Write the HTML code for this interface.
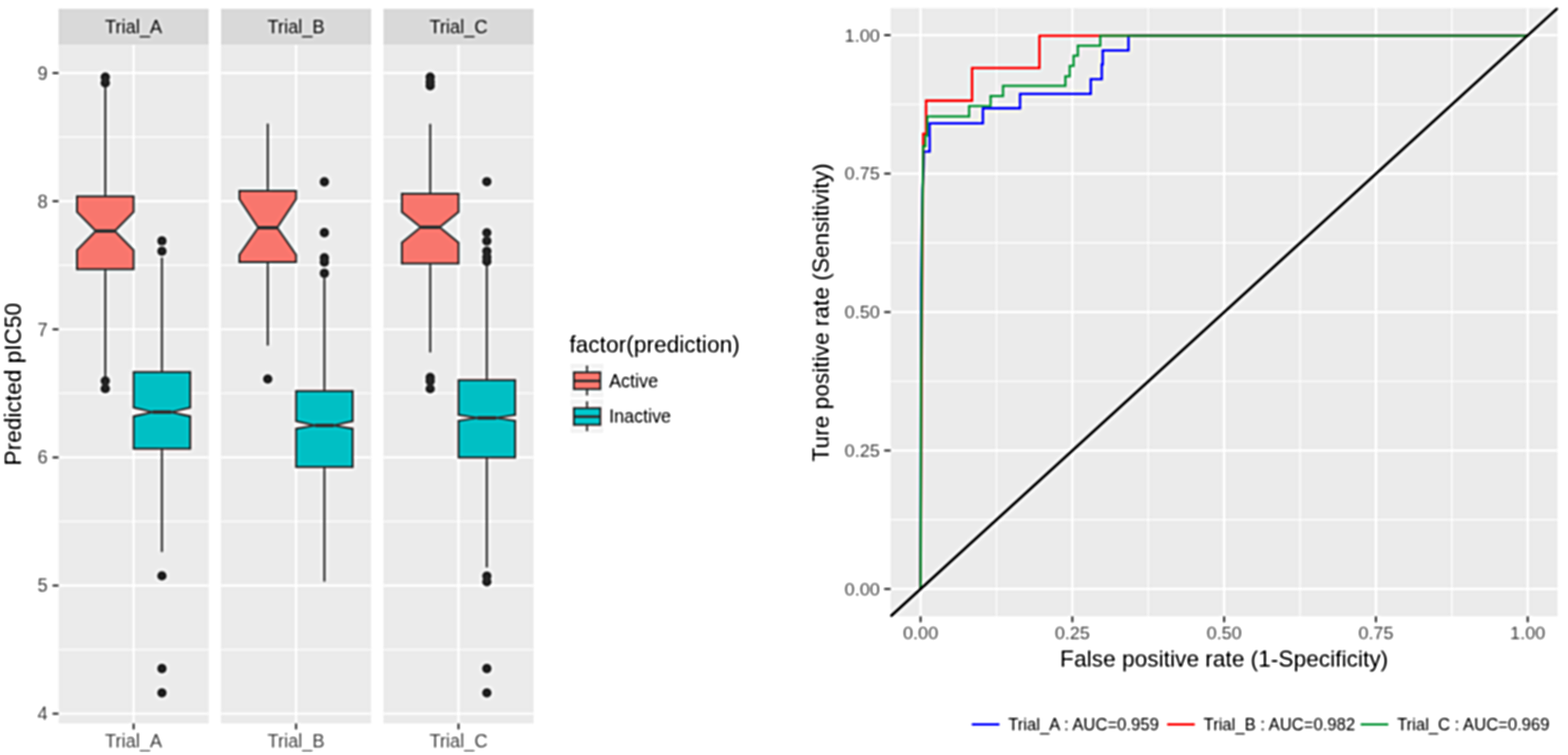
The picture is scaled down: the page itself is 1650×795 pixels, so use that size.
<!DOCTYPE html>
<html><head><meta charset="utf-8"><title>Boxplot and ROC</title>
<style>html,body{margin:0;padding:0;background:#fff;width:1650px;height:795px;overflow:hidden}svg{display:block}</style>
</head><body>
<svg width="1650" height="795" viewBox="0 0 1650 795" font-family='"Liberation Sans", Arial, Helvetica, sans-serif'>
<rect x="0" y="0" width="1650" height="795" fill="#FFFFFF"/>
<defs><filter id="soft" filterUnits="userSpaceOnUse" x="0" y="0" width="1650" height="795" color-interpolation-filters="sRGB"><feGaussianBlur in="SourceGraphic" stdDeviation="0.85" result="b1"/><feGaussianBlur in="SourceGraphic" stdDeviation="2.0" result="b2"/><feComposite in="b1" in2="b2" operator="arithmetic" k1="0" k2="1.7" k3="-0.7" k4="0"/></filter></defs>
<g filter="url(#soft)">
<rect x="0" y="0" width="1650" height="795" fill="#FFFFFF"/>
<rect x="61.6" y="9.3" width="158" height="38" fill="#D9D9D9"/>
<text transform="translate(140.6,35.2) scale(1,1.03)" font-size="19.2" fill="#1A1A1A" text-anchor="middle">Trial_A</text>
<rect x="61.6" y="47.3" width="158" height="714.5" fill="#EBEBEB"/>
<line x1="61.6" x2="219.6" y1="684.04" y2="684.04" stroke="#FFFFFF" stroke-width="1.2"/>
<line x1="61.6" x2="219.6" y1="549.12" y2="549.12" stroke="#FFFFFF" stroke-width="1.2"/>
<line x1="61.6" x2="219.6" y1="414.2" y2="414.2" stroke="#FFFFFF" stroke-width="1.2"/>
<line x1="61.6" x2="219.6" y1="279.28" y2="279.28" stroke="#FFFFFF" stroke-width="1.2"/>
<line x1="61.6" x2="219.6" y1="144.36" y2="144.36" stroke="#FFFFFF" stroke-width="1.2"/>
<line x1="61.6" x2="219.6" y1="751.5" y2="751.5" stroke="#FFFFFF" stroke-width="2.2"/>
<line x1="61.6" x2="219.6" y1="616.58" y2="616.58" stroke="#FFFFFF" stroke-width="2.2"/>
<line x1="61.6" x2="219.6" y1="481.66" y2="481.66" stroke="#FFFFFF" stroke-width="2.2"/>
<line x1="61.6" x2="219.6" y1="346.74" y2="346.74" stroke="#FFFFFF" stroke-width="2.2"/>
<line x1="61.6" x2="219.6" y1="211.82" y2="211.82" stroke="#FFFFFF" stroke-width="2.2"/>
<line x1="61.6" x2="219.6" y1="76.9" y2="76.9" stroke="#FFFFFF" stroke-width="2.2"/>
<line x1="140.6" x2="140.6" y1="47.3" y2="761.8" stroke="#FFFFFF" stroke-width="2.2"/>
<line x1="140.6" x2="140.6" y1="761.8" y2="768.1" stroke="#333333" stroke-width="2"/>
<text transform="translate(140.6,787) scale(1,1.03)" font-size="19.2" fill="#4D4D4D" text-anchor="middle">Trial_A</text>
<rect x="232.55" y="9.3" width="158" height="38" fill="#D9D9D9"/>
<text transform="translate(311.55,35.2) scale(1,1.03)" font-size="19.2" fill="#1A1A1A" text-anchor="middle">Trial_B</text>
<rect x="232.55" y="47.3" width="158" height="714.5" fill="#EBEBEB"/>
<line x1="232.55" x2="390.55" y1="684.04" y2="684.04" stroke="#FFFFFF" stroke-width="1.2"/>
<line x1="232.55" x2="390.55" y1="549.12" y2="549.12" stroke="#FFFFFF" stroke-width="1.2"/>
<line x1="232.55" x2="390.55" y1="414.2" y2="414.2" stroke="#FFFFFF" stroke-width="1.2"/>
<line x1="232.55" x2="390.55" y1="279.28" y2="279.28" stroke="#FFFFFF" stroke-width="1.2"/>
<line x1="232.55" x2="390.55" y1="144.36" y2="144.36" stroke="#FFFFFF" stroke-width="1.2"/>
<line x1="232.55" x2="390.55" y1="751.5" y2="751.5" stroke="#FFFFFF" stroke-width="2.2"/>
<line x1="232.55" x2="390.55" y1="616.58" y2="616.58" stroke="#FFFFFF" stroke-width="2.2"/>
<line x1="232.55" x2="390.55" y1="481.66" y2="481.66" stroke="#FFFFFF" stroke-width="2.2"/>
<line x1="232.55" x2="390.55" y1="346.74" y2="346.74" stroke="#FFFFFF" stroke-width="2.2"/>
<line x1="232.55" x2="390.55" y1="211.82" y2="211.82" stroke="#FFFFFF" stroke-width="2.2"/>
<line x1="232.55" x2="390.55" y1="76.9" y2="76.9" stroke="#FFFFFF" stroke-width="2.2"/>
<line x1="311.55" x2="311.55" y1="47.3" y2="761.8" stroke="#FFFFFF" stroke-width="2.2"/>
<line x1="311.55" x2="311.55" y1="761.8" y2="768.1" stroke="#333333" stroke-width="2"/>
<text transform="translate(311.55,787) scale(1,1.03)" font-size="19.2" fill="#4D4D4D" text-anchor="middle">Trial_B</text>
<rect x="403.5" y="9.3" width="158" height="38" fill="#D9D9D9"/>
<text transform="translate(482.5,35.2) scale(1,1.03)" font-size="19.2" fill="#1A1A1A" text-anchor="middle">Trial_C</text>
<rect x="403.5" y="47.3" width="158" height="714.5" fill="#EBEBEB"/>
<line x1="403.5" x2="561.5" y1="684.04" y2="684.04" stroke="#FFFFFF" stroke-width="1.2"/>
<line x1="403.5" x2="561.5" y1="549.12" y2="549.12" stroke="#FFFFFF" stroke-width="1.2"/>
<line x1="403.5" x2="561.5" y1="414.2" y2="414.2" stroke="#FFFFFF" stroke-width="1.2"/>
<line x1="403.5" x2="561.5" y1="279.28" y2="279.28" stroke="#FFFFFF" stroke-width="1.2"/>
<line x1="403.5" x2="561.5" y1="144.36" y2="144.36" stroke="#FFFFFF" stroke-width="1.2"/>
<line x1="403.5" x2="561.5" y1="751.5" y2="751.5" stroke="#FFFFFF" stroke-width="2.2"/>
<line x1="403.5" x2="561.5" y1="616.58" y2="616.58" stroke="#FFFFFF" stroke-width="2.2"/>
<line x1="403.5" x2="561.5" y1="481.66" y2="481.66" stroke="#FFFFFF" stroke-width="2.2"/>
<line x1="403.5" x2="561.5" y1="346.74" y2="346.74" stroke="#FFFFFF" stroke-width="2.2"/>
<line x1="403.5" x2="561.5" y1="211.82" y2="211.82" stroke="#FFFFFF" stroke-width="2.2"/>
<line x1="403.5" x2="561.5" y1="76.9" y2="76.9" stroke="#FFFFFF" stroke-width="2.2"/>
<line x1="482.5" x2="482.5" y1="47.3" y2="761.8" stroke="#FFFFFF" stroke-width="2.2"/>
<line x1="482.5" x2="482.5" y1="761.8" y2="768.1" stroke="#333333" stroke-width="2"/>
<text transform="translate(482.5,787) scale(1,1.03)" font-size="19.2" fill="#4D4D4D" text-anchor="middle">Trial_C</text>
<line x1="55.3" x2="61.6" y1="751.5" y2="751.5" stroke="#333333" stroke-width="2"/>
<text transform="translate(50.2,758.3) scale(1,1.03)" font-size="19.2" fill="#4D4D4D" text-anchor="end">4</text>
<line x1="55.3" x2="61.6" y1="616.58" y2="616.58" stroke="#333333" stroke-width="2"/>
<text transform="translate(50.2,623.38) scale(1,1.03)" font-size="19.2" fill="#4D4D4D" text-anchor="end">5</text>
<line x1="55.3" x2="61.6" y1="481.66" y2="481.66" stroke="#333333" stroke-width="2"/>
<text transform="translate(50.2,488.46) scale(1,1.03)" font-size="19.2" fill="#4D4D4D" text-anchor="end">6</text>
<line x1="55.3" x2="61.6" y1="346.74" y2="346.74" stroke="#333333" stroke-width="2"/>
<text transform="translate(50.2,353.54) scale(1,1.03)" font-size="19.2" fill="#4D4D4D" text-anchor="end">7</text>
<line x1="55.3" x2="61.6" y1="211.82" y2="211.82" stroke="#333333" stroke-width="2"/>
<text transform="translate(50.2,218.62) scale(1,1.03)" font-size="19.2" fill="#4D4D4D" text-anchor="end">8</text>
<line x1="55.3" x2="61.6" y1="76.9" y2="76.9" stroke="#333333" stroke-width="2"/>
<text transform="translate(50.2,83.7) scale(1,1.03)" font-size="19.2" fill="#4D4D4D" text-anchor="end">9</text>
<text transform="translate(22.2,404.5) rotate(-90) scale(1,1.03)" font-size="23.9" fill="#000000" text-anchor="middle">Predicted pIC50</text>
<line x1="110.8" x2="110.8" y1="90.3" y2="206.8" stroke="#333333" stroke-width="2.0"/>
<line x1="110.8" x2="110.8" y1="283.6" y2="397" stroke="#333333" stroke-width="2.0"/>
<path d="M81,206.8 L140.6,206.8 L140.6,223.2 L120.8,243.3 L140.6,263.4 L140.6,283.6 L81,283.6 L81,263.4 L100.8,243.3 L81,223.2 Z" fill="#F8766D" stroke="#333333" stroke-width="2.0" stroke-linejoin="miter"/>
<line x1="100.8" x2="120.8" y1="243.3" y2="243.3" stroke="#333333" stroke-width="3.6"/>
<circle cx="110.8" cy="81.2" r="4.9" fill="#2A2A2A"/>
<circle cx="110.8" cy="87.3" r="4.9" fill="#2A2A2A"/>
<circle cx="110.8" cy="401.1" r="4.9" fill="#2A2A2A"/>
<circle cx="110.8" cy="409.2" r="4.9" fill="#2A2A2A"/>
<line x1="170.4" x2="170.4" y1="271.2" y2="391.8" stroke="#333333" stroke-width="2.0"/>
<line x1="170.4" x2="170.4" y1="472.6" y2="581.2" stroke="#333333" stroke-width="2.0"/>
<path d="M140.6,391.8 L200.2,391.8 L200.2,429.3 L180.4,433.9 L200.2,438.4 L200.2,472.6 L140.6,472.6 L140.6,438.4 L160.4,433.9 L140.6,429.3 Z" fill="#00BFC4" stroke="#333333" stroke-width="2.0" stroke-linejoin="miter"/>
<line x1="160.4" x2="180.4" y1="433.9" y2="433.9" stroke="#333333" stroke-width="3.6"/>
<circle cx="170.4" cy="253.7" r="4.9" fill="#2A2A2A"/>
<circle cx="170.4" cy="264.5" r="4.9" fill="#2A2A2A"/>
<circle cx="170.4" cy="606.4" r="4.9" fill="#2A2A2A"/>
<circle cx="170.4" cy="704" r="4.9" fill="#2A2A2A"/>
<circle cx="170.4" cy="729.6" r="4.9" fill="#2A2A2A"/>
<line x1="281.75" x2="281.75" y1="130.2" y2="201" stroke="#333333" stroke-width="2.0"/>
<line x1="281.75" x2="281.75" y1="275.9" y2="363.8" stroke="#333333" stroke-width="2.0"/>
<path d="M251.95,201 L311.55,201 L311.55,209.7 L291.75,239.8 L311.55,268.2 L311.55,275.9 L251.95,275.9 L251.95,268.2 L271.75,239.8 L251.95,209.7 Z" fill="#F8766D" stroke="#333333" stroke-width="2.0" stroke-linejoin="miter"/>
<line x1="271.75" x2="291.75" y1="239.8" y2="239.8" stroke="#333333" stroke-width="3.6"/>
<circle cx="281.75" cy="399.1" r="4.9" fill="#2A2A2A"/>
<line x1="341.35" x2="341.35" y1="288" y2="411.8" stroke="#333333" stroke-width="2.0"/>
<line x1="341.35" x2="341.35" y1="491.7" y2="612.4" stroke="#333333" stroke-width="2.0"/>
<path d="M311.55,411.8 L371.15,411.8 L371.15,443.4 L351.35,448 L371.15,451.4 L371.15,491.7 L311.55,491.7 L311.55,451.4 L331.35,448 L311.55,443.4 Z" fill="#00BFC4" stroke="#333333" stroke-width="2.0" stroke-linejoin="miter"/>
<line x1="331.35" x2="351.35" y1="448" y2="448" stroke="#333333" stroke-width="3.6"/>
<circle cx="341.35" cy="191.5" r="4.9" fill="#2A2A2A"/>
<circle cx="341.35" cy="245" r="4.9" fill="#2A2A2A"/>
<circle cx="341.35" cy="271.5" r="4.9" fill="#2A2A2A"/>
<circle cx="341.35" cy="276" r="4.9" fill="#2A2A2A"/>
<circle cx="341.35" cy="287.7" r="4.9" fill="#2A2A2A"/>
<line x1="452.7" x2="452.7" y1="130.5" y2="204.1" stroke="#333333" stroke-width="2.0"/>
<line x1="452.7" x2="452.7" y1="277.5" y2="371.1" stroke="#333333" stroke-width="2.0"/>
<path d="M422.9,204.1 L482.5,204.1 L482.5,223.2 L462.7,239.3 L482.5,255.4 L482.5,277.5 L422.9,277.5 L422.9,255.4 L442.7,239.3 L422.9,223.2 Z" fill="#F8766D" stroke="#333333" stroke-width="2.0" stroke-linejoin="miter"/>
<line x1="442.7" x2="462.7" y1="239.3" y2="239.3" stroke="#333333" stroke-width="3.6"/>
<circle cx="452.7" cy="81.2" r="4.9" fill="#2A2A2A"/>
<circle cx="452.7" cy="86.2" r="4.9" fill="#2A2A2A"/>
<circle cx="452.7" cy="90.3" r="4.9" fill="#2A2A2A"/>
<circle cx="452.7" cy="397.5" r="4.9" fill="#2A2A2A"/>
<circle cx="452.7" cy="401.3" r="4.9" fill="#2A2A2A"/>
<circle cx="452.7" cy="409.4" r="4.9" fill="#2A2A2A"/>
<line x1="512.3" x2="512.3" y1="279" y2="400.3" stroke="#333333" stroke-width="2.0"/>
<line x1="512.3" x2="512.3" y1="481.8" y2="597.5" stroke="#333333" stroke-width="2.0"/>
<path d="M482.5,400.3 L542.1,400.3 L542.1,436.9 L522.3,440.1 L542.1,443 L542.1,481.8 L482.5,481.8 L482.5,443 L502.3,440.1 L482.5,436.9 Z" fill="#00BFC4" stroke="#333333" stroke-width="2.0" stroke-linejoin="miter"/>
<line x1="502.3" x2="522.3" y1="440.1" y2="440.1" stroke="#333333" stroke-width="3.6"/>
<circle cx="512.3" cy="191.3" r="4.9" fill="#2A2A2A"/>
<circle cx="512.3" cy="245.1" r="4.9" fill="#2A2A2A"/>
<circle cx="512.3" cy="253.8" r="4.9" fill="#2A2A2A"/>
<circle cx="512.3" cy="264.4" r="4.9" fill="#2A2A2A"/>
<circle cx="512.3" cy="270.8" r="4.9" fill="#2A2A2A"/>
<circle cx="512.3" cy="275.3" r="4.9" fill="#2A2A2A"/>
<circle cx="512.3" cy="606.6" r="4.9" fill="#2A2A2A"/>
<circle cx="512.3" cy="612.6" r="4.9" fill="#2A2A2A"/>
<circle cx="512.3" cy="704" r="4.9" fill="#2A2A2A"/>
<circle cx="512.3" cy="729.6" r="4.9" fill="#2A2A2A"/>
<text transform="translate(599.2,371.1) scale(1,1.03)" font-size="23.9" fill="#000000">factor(prediction)</text>
<rect x="599.8" y="382.55" width="35.6" height="36.2" fill="#F3F3F3" stroke="#FFFFFF" stroke-width="1"/>
<line x1="617.7" x2="617.7" y1="385" y2="416.3" stroke="#333333" stroke-width="2.0"/>
<rect x="603.9" y="392.1" width="27.8" height="17.6" fill="#F8766D" stroke="#333333" stroke-width="2.0"/>
<line x1="603.9" x2="631.7" y1="401.1" y2="401.1" stroke="#333333" stroke-width="2.6"/>
<text transform="translate(641,407.55) scale(1,1.03)" font-size="18.9" fill="#000000">Active</text>
<rect x="599.8" y="420.2" width="35.6" height="36.2" fill="#F3F3F3" stroke="#FFFFFF" stroke-width="1"/>
<line x1="617.7" x2="617.7" y1="422.65" y2="453.95" stroke="#333333" stroke-width="2.0"/>
<rect x="603.9" y="429.75" width="27.8" height="17.6" fill="#00BFC4" stroke="#333333" stroke-width="2.0"/>
<line x1="603.9" x2="631.7" y1="438.75" y2="438.75" stroke="#333333" stroke-width="2.6"/>
<text transform="translate(641,445.2) scale(1,1.03)" font-size="18.9" fill="#000000">Inactive</text>
<rect x="937.2" y="8.6" width="701.8" height="640.4" fill="#EBEBEB"/>
<line x1="1048.56" x2="1048.56" y1="8.6" y2="649" stroke="#FFFFFF" stroke-width="1.2"/>
<line x1="937.2" x2="1639" y1="547.3" y2="547.3" stroke="#FFFFFF" stroke-width="1.2"/>
<line x1="1208.29" x2="1208.29" y1="8.6" y2="649" stroke="#FFFFFF" stroke-width="1.2"/>
<line x1="937.2" x2="1639" y1="401.5" y2="401.5" stroke="#FFFFFF" stroke-width="1.2"/>
<line x1="1368.01" x2="1368.01" y1="8.6" y2="649" stroke="#FFFFFF" stroke-width="1.2"/>
<line x1="937.2" x2="1639" y1="255.7" y2="255.7" stroke="#FFFFFF" stroke-width="1.2"/>
<line x1="1527.74" x2="1527.74" y1="8.6" y2="649" stroke="#FFFFFF" stroke-width="1.2"/>
<line x1="937.2" x2="1639" y1="109.9" y2="109.9" stroke="#FFFFFF" stroke-width="1.2"/>
<line x1="968.7" x2="968.7" y1="8.6" y2="649" stroke="#FFFFFF" stroke-width="2.2"/>
<line x1="937.2" x2="1639" y1="620.2" y2="620.2" stroke="#FFFFFF" stroke-width="2.2"/>
<line x1="1128.42" x2="1128.42" y1="8.6" y2="649" stroke="#FFFFFF" stroke-width="2.2"/>
<line x1="937.2" x2="1639" y1="474.4" y2="474.4" stroke="#FFFFFF" stroke-width="2.2"/>
<line x1="1288.15" x2="1288.15" y1="8.6" y2="649" stroke="#FFFFFF" stroke-width="2.2"/>
<line x1="937.2" x2="1639" y1="328.6" y2="328.6" stroke="#FFFFFF" stroke-width="2.2"/>
<line x1="1447.88" x2="1447.88" y1="8.6" y2="649" stroke="#FFFFFF" stroke-width="2.2"/>
<line x1="937.2" x2="1639" y1="182.8" y2="182.8" stroke="#FFFFFF" stroke-width="2.2"/>
<line x1="1607.6" x2="1607.6" y1="8.6" y2="649" stroke="#FFFFFF" stroke-width="2.2"/>
<line x1="937.2" x2="1639" y1="37" y2="37" stroke="#FFFFFF" stroke-width="2.2"/>
<line x1="930.4" x2="937.2" y1="620.2" y2="620.2" stroke="#333333" stroke-width="2"/>
<text transform="translate(925.8,626.74)" font-size="19" fill="#4D4D4D" text-anchor="end">0.00</text>
<line x1="968.7" x2="968.7" y1="649" y2="655.3" stroke="#333333" stroke-width="2"/>
<text transform="translate(968.7,673.1)" font-size="19" fill="#4D4D4D" text-anchor="middle">0.00</text>
<line x1="930.4" x2="937.2" y1="474.4" y2="474.4" stroke="#333333" stroke-width="2"/>
<text transform="translate(925.8,480.94)" font-size="19" fill="#4D4D4D" text-anchor="end">0.25</text>
<line x1="1128.42" x2="1128.42" y1="649" y2="655.3" stroke="#333333" stroke-width="2"/>
<text transform="translate(1128.42,673.1)" font-size="19" fill="#4D4D4D" text-anchor="middle">0.25</text>
<line x1="930.4" x2="937.2" y1="328.6" y2="328.6" stroke="#333333" stroke-width="2"/>
<text transform="translate(925.8,335.14)" font-size="19" fill="#4D4D4D" text-anchor="end">0.50</text>
<line x1="1288.15" x2="1288.15" y1="649" y2="655.3" stroke="#333333" stroke-width="2"/>
<text transform="translate(1288.15,673.1)" font-size="19" fill="#4D4D4D" text-anchor="middle">0.50</text>
<line x1="930.4" x2="937.2" y1="182.8" y2="182.8" stroke="#333333" stroke-width="2"/>
<text transform="translate(925.8,189.34)" font-size="19" fill="#4D4D4D" text-anchor="end">0.75</text>
<line x1="1447.88" x2="1447.88" y1="649" y2="655.3" stroke="#333333" stroke-width="2"/>
<text transform="translate(1447.88,673.1)" font-size="19" fill="#4D4D4D" text-anchor="middle">0.75</text>
<line x1="930.4" x2="937.2" y1="37" y2="37" stroke="#333333" stroke-width="2"/>
<text transform="translate(925.8,43.54)" font-size="19" fill="#4D4D4D" text-anchor="end">1.00</text>
<line x1="1607.6" x2="1607.6" y1="649" y2="655.3" stroke="#333333" stroke-width="2"/>
<text transform="translate(1607.6,673.1)" font-size="19" fill="#4D4D4D" text-anchor="middle">1.00</text>
<text transform="translate(1288.2,702.4)" font-size="23.9" fill="#000000" text-anchor="middle">False positive rate (1-Specificity)</text>
<text transform="translate(871.6,329) rotate(-90)" font-size="23.9" fill="#000000" text-anchor="middle">Ture positive rate (Sensitivity)</text>
<path d="M968.7,620.2 L969.3,300 L969.9,250 L970.7,200 L972,176 L972.3,159.7 L978.3,159.7 L978.3,129.9 L1034.3,129.9 L1034.3,114 L1073.4,114 L1073.4,98.9 L1147.8,98.9 L1147.8,83.4 L1159.4,83.4 L1159.4,67.8 L1160.4,67.8 L1160.4,53.2 L1187.5,53.2 L1187.5,37.6 L1607.6,37.6" fill="none" stroke="#0000FF" stroke-width="2.3" stroke-linejoin="miter"/>
<path d="M968.7,620.2 L969.7,400 L970.7,250 L971.4,160 L971.4,140.9 L974.5,140.9 L974.5,106 L1022.9,106 L1022.9,71.6 L1093.8,71.6 L1093.8,37.6 L1607.6,37.6" fill="none" stroke="#FF0000" stroke-width="2.3" stroke-linejoin="miter"/>
<path d="M968.7,620.2 L969.2,400 L970.2,250 L971.2,180 L971.4,154 L973.9,154 L973.9,142.8 L975.8,142.8 L975.8,122.6 L1019.8,122.6 L1019.8,111.7 L1042.4,111.7 L1042.4,101.1 L1055.5,101.1 L1055.5,90.4 L1121.1,90.4 L1121.1,80.3 L1125.7,80.3 L1125.7,69.3 L1129.7,69.3 L1129.7,58.7 L1134.2,58.7 L1134.2,48.1 L1157.8,48.1 L1157.8,37.6 L1607.6,37.6" fill="none" stroke="#0E983C" stroke-width="2.3" stroke-linejoin="miter"/>
<line x1="937.2" y1="649" x2="1639" y2="8.6" stroke="#000000" stroke-width="2.6"/>
<line x1="1022.6" x2="1051.7" y1="762.8" y2="762.8" stroke="#0000FF" stroke-width="2.3"/>
<text transform="translate(1061,768.6)" font-size="17.5" fill="#000000">Trial_A : AUC=0.959</text>
<line x1="1228.2" x2="1257.3" y1="762.8" y2="762.8" stroke="#FF0000" stroke-width="2.3"/>
<text transform="translate(1266.6,768.6)" font-size="17.5" fill="#000000">Trial_B : AUC=0.982</text>
<line x1="1431.8" x2="1460.9" y1="762.8" y2="762.8" stroke="#0E983C" stroke-width="2.3"/>
<text transform="translate(1470.2,768.6)" font-size="17.5" fill="#000000">Trial_C : AUC=0.969</text>
</g>
</svg>
</body></html>
